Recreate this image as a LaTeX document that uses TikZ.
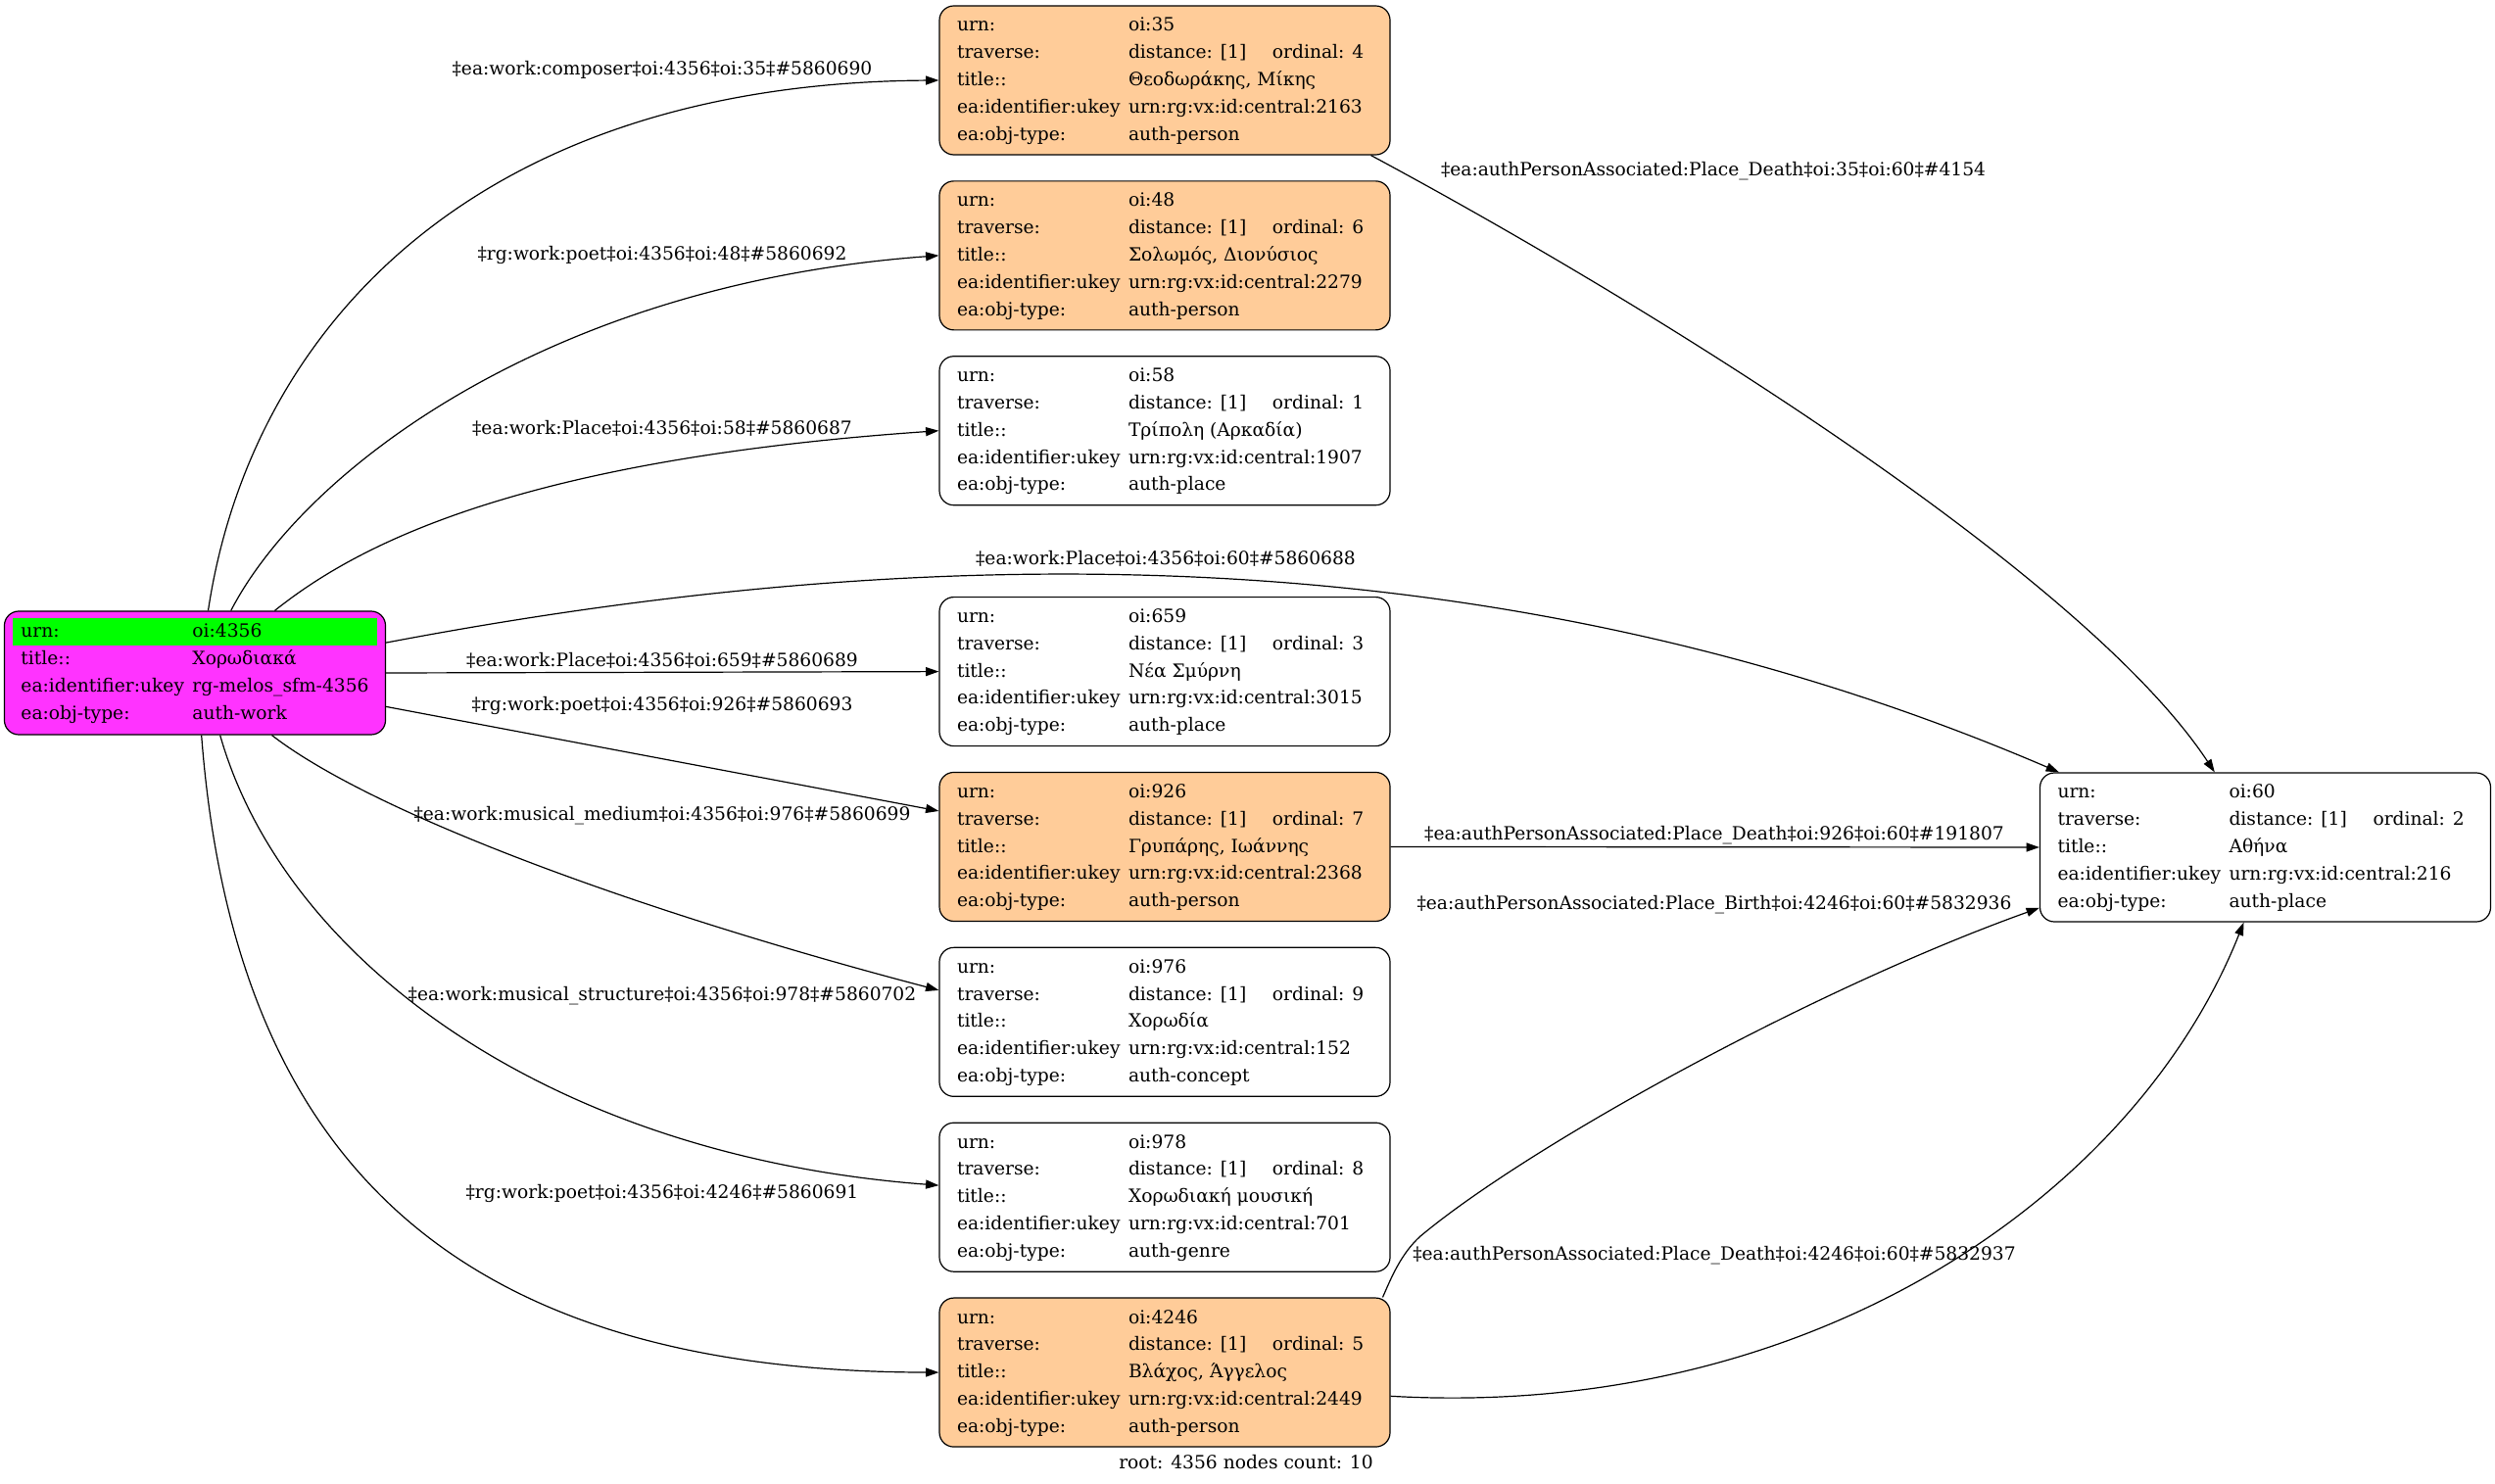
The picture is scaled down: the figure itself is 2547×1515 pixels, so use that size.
\documentclass[tikz,border=0pt]{standalone}
\usepackage{fontspec}
\setmainfont{DejaVu Serif}
\usepackage{colortbl}
\usetikzlibrary{arrows.meta,positioning}
\definecolor{workfill}{HTML}{FF33FF}
\definecolor{personfill}{HTML}{FFCC99}
\definecolor{urnhl}{HTML}{00FF00}
\newcommand{\objtable}[5]{%
  \begin{tabular}{@{}p{131.25pt}@{}p{186.75pt}@{}}
    urn: & #1\\
    traverse: & \makebox[110.25pt][l]{distance: [1]}ordinal: #2\\
    title:: & #3\\
    ea:identifier:ukey & #4\\
    ea:obj-type: & #5
  \end{tabular}}

\begin{document}
\begin{tikzpicture}[x=.75pt,y=-.75pt,->,>={Triangle[length=10pt,width=6.75pt]},line width=.9pt,
    every node/.style={font=\fontsize{14pt}{20.85pt}\selectfont},
    obj/.style={draw,rounded corners=11pt,inner xsep=13.5pt,inner ysep=0pt,minimum width=345pt,minimum height=114pt},
    person/.style={obj,fill=personfill},
    work/.style={draw,rounded corners=11pt,inner xsep=12.75pt,inner ysep=0pt,minimum height=94.5pt,fill=workfill},
    lbl/.style={inner sep=0pt},node distance=19.25pt]
    \useasboundingbox (0,0) rectangle (2547,1515);

    \node[work] (root) at (199,687) {\begin{tabular}{@{}p{131.25pt}@{}l@{}}
        \cellcolor{urnhl}urn: & \cellcolor{urnhl}oi:4356\\
        title:: & Χορωδιακά\\
        ea:identifier:ukey & rg-melos\_sfm-4356\\
        ea:obj-type: & auth-work
      \end{tabular}};

    \node[person] (n35) at (1189,82) {\objtable{oi:35}{4}{Θεοδωράκης, Μίκης}{urn:rg:vx:id:central:2163}{auth-person}};
    \node[person, below=of n35] (n48) {\objtable{oi:48}{6}{Σολωμός, Διονύσιος}{urn:rg:vx:id:central:2279}{auth-person}};
    \node[obj, below=of n48] (n58) {\objtable{oi:58}{1}{Τρίπολη (Αρκαδία)}{urn:rg:vx:id:central:1907}{auth-place}};
    \node[obj, below=69.5pt of n58] (n659) {\objtable{oi:659}{3}{Νέα Σμύρνη}{urn:rg:vx:id:central:3015}{auth-place}};
    \node[person, below=of n659] (n926) {\objtable{oi:926}{7}{Γρυπάρης, Ιωάννης}{urn:rg:vx:id:central:2368}{auth-person}};
    \node[obj, below=of n926] (n976) {\objtable{oi:976}{9}{Χορωδία}{urn:rg:vx:id:central:152}{auth-concept}};
    \node[obj, below=of n976] (n978) {\objtable{oi:978}{8}{Χορωδιακή μουσική}{urn:rg:vx:id:central:701}{auth-genre}};
    \node[person, below=of n978] (n4246) {\objtable{oi:4246}{5}{Βλάχος, Άγγελος}{urn:rg:vx:id:central:2449}{auth-person}};

    \node[obj] (n60) at (2312.5,865) {\objtable{oi:60}{2}{Αθήνα}{urn:rg:vx:id:central:216}{auth-place}};

    \node[lbl] (l35) at (676,71) {‡ea:work:composer‡oi:4356‡oi:35‡\#5860690};
    \node[lbl] (l48) at (676,260) {‡rg:work:poet‡oi:4356‡oi:48‡\#5860692};
    \node[lbl] (l58) at (676,437) {‡ea:work:Place‡oi:4356‡oi:58‡\#5860687};
    \node[lbl] (l60) at (1190,570) {‡ea:work:Place‡oi:4356‡oi:60‡\#5860688};
    \node[lbl] (l659) at (676,674) {‡ea:work:Place‡oi:4356‡oi:659‡\#5860689};
    \node[lbl] (l926) at (676,720) {‡rg:work:poet‡oi:4356‡oi:926‡\#5860693};
    \node[lbl] (l976) at (676,833) {‡ea:work:musical\_medium‡oi:4356‡oi:976‡\#5860699};
    \node[lbl] (l978) at (676,1017) {‡ea:work:musical\_structure‡oi:4356‡oi:978‡\#5860702};
    \node[lbl] (l4246) at (676,1218) {‡rg:work:poet‡oi:4356‡oi:4246‡\#5860691};
    \node[lbl] (d35) at (1749,175) {‡ea:authPersonAssociated:Place\_Death‡oi:35‡oi:60‡\#4154};
    \node[lbl] (d926) at (1750,853) {‡ea:authPersonAssociated:Place\_Death‡oi:926‡oi:60‡\#191807};
    \node[lbl] (b4246) at (1750,924) {‡ea:authPersonAssociated:Place\_Birth‡oi:4246‡oi:60‡\#5832936};
    \node[lbl] (d4246) at (1750,1282) {‡ea:authPersonAssociated:Place\_Death‡oi:4246‡oi:60‡\#5832937};

    \node[lbl] (footer) at (1272,1493) {root: 4356 nodes count: 10};

    \draw (root.78) .. controls (255,340) and (480,85) .. (n35.west);
    \draw (root.60) .. controls (310,480) and (560,290) .. (n48.west);
    \draw (root.38) .. controls (360,560) and (520,470) .. (n58.west);
    \draw (root.9) .. controls (900,560) and (1500,530) .. (n60.160);
    \draw (root.321) .. controls (380,830) and (650,930) .. (n976.172);
    \draw (root.292) .. controls (290,980) and (560,1180) .. (n978.177);
    \draw (root.276) .. controls (240,1200) and (480,1400) .. (n4246.west);
    \draw (n35.340) .. controls (1700,320) and (2130,590) .. (n60.124);
    \draw (n4246.19) .. controls (1420,1305) and (1430,1280) .. (1450,1262)
        .. controls (1560,1170) and (1850,1010) .. (n60.195);
    \draw (n4246.354) .. controls (1850,1450) and (2180,1220) .. (n60.254);

    \path
        (root.east) edge (n659.west)
        (root.350) edge (n926.171)
        (n926.east) edge (n60.west);
\end{tikzpicture}
\end{document}
